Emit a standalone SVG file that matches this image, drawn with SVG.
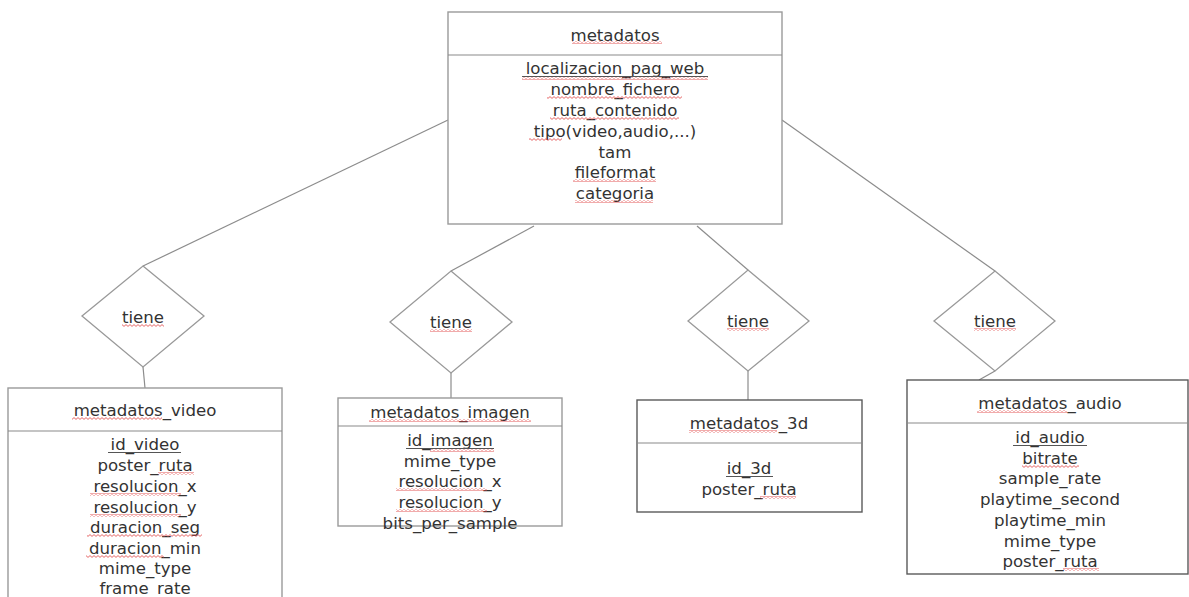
<svg xmlns="http://www.w3.org/2000/svg" width="1189" height="597" viewBox="0 0 1189 597">
  <defs>
    <pattern id="wave" x="0" y="0" width="4" height="3" patternUnits="userSpaceOnUse">
      <path d="M0 2.4 L2 0.6 L4 2.4" fill="none" stroke="#e04040" stroke-width="0.8"/>
    </pattern>
    <style>
      .box { fill: #ffffff; stroke: #9a9a9a; stroke-width: 1.4; }
      .box.dark { stroke: #5a5a5a; }
      .sep { stroke: #8a8a8a; stroke-width: 1.2; }
      .rel { fill: #ffffff; stroke: #999999; stroke-width: 1.3; }
      .conn { fill: none; stroke: #8c8c8c; stroke-width: 1.2; }
      text { font-family: "DejaVu Sans", Verdana, sans-serif; font-size: 16.6px; fill: #333333; text-anchor: middle; }
      .ul { stroke: #555555; stroke-width: 1; }
      .sq { fill: url(#wave); }
    </style>
  </defs>

  <rect width="1189" height="597" fill="#ffffff"/>

  <!-- connectors -->
  <g id="connectors">
    <line class="conn" x1="448" y1="120" x2="143" y2="266"/>
    <line class="conn" x1="534" y1="226" x2="451" y2="271"/>
    <line class="conn" x1="697" y1="226" x2="748" y2="270"/>
    <line class="conn" x1="782" y1="120" x2="995" y2="271"/>
    <line class="conn" x1="143" y1="367" x2="145" y2="388"/>
    <line class="conn" x1="451" y1="373" x2="451" y2="398"/>
    <line class="conn" x1="748" y1="371" x2="748" y2="400"/>
    <line class="conn" x1="995" y1="371" x2="979" y2="380"/>
  </g>

  <!-- central entity -->
  <g id="metadatos">
    <rect class="box" x="448" y="12" width="334" height="212"/>
    <line class="sep" x1="448" y1="55" x2="782" y2="55"/>
    <text x="615" y="41">metadatos</text>
    <rect class="sq" x="572" y="41" width="90" height="3"/>
    <text x="615" y="74">localizacion_pag_web</text>
    <line class="ul" x1="522" y1="76.5" x2="708" y2="76.5"/>
    <rect class="sq" x="522" y="77" width="186" height="3"/>
    <text x="615" y="95">nombre_fichero</text>
    <rect class="sq" x="547" y="96" width="135" height="3"/>
    <text x="615" y="116">ruta_contenido</text>
    <rect class="sq" x="550" y="117" width="129" height="3"/>
    <text x="615" y="137">tipo(video,audio,...)</text>
    <rect class="sq" x="529" y="138" width="33" height="3"/>
    <text x="615" y="158">tam</text>
    <text x="615" y="178">fileformat</text>
    <rect class="sq" x="573" y="179" width="83" height="3"/>
    <text x="615" y="199">categoria</text>
    <rect class="sq" x="575" y="200" width="78" height="3"/>
  </g>

  <!-- relationships -->
  <g id="tiene-video">
    <polygon class="rel" points="143,266 204,316 143,367 82,316"/>
    <text x="143" y="323">tiene</text>
    <rect class="sq" x="122" y="324" width="42" height="3"/>
  </g>
  <g id="tiene-imagen">
    <polygon class="rel" points="451,271 512,322 451,373 390,322"/>
    <text x="451" y="328">tiene</text>
    <rect class="sq" x="430" y="329" width="42" height="3"/>
  </g>
  <g id="tiene-3d">
    <polygon class="rel" points="748,270 809,321 748,371 688,321"/>
    <text x="748" y="327">tiene</text>
    <rect class="sq" x="727" y="328" width="42" height="3"/>
  </g>
  <g id="tiene-audio">
    <polygon class="rel" points="995,271 1055,321 995,371 934,321"/>
    <text x="995" y="327">tiene</text>
    <rect class="sq" x="974" y="328" width="42" height="3"/>
  </g>

  <!-- metadatos_video -->
  <g id="metadatos_video">
    <rect class="box" x="8" y="388" width="274" height="220"/>
    <line class="sep" x1="8" y1="431" x2="282" y2="431"/>
    <text x="145" y="416">metadatos_video</text>
    <rect class="sq" x="72" y="417" width="90" height="3"/>
    <text x="145" y="450">id_video</text>
    <line class="ul" x1="108" y1="452.5" x2="181" y2="452.5"/>
    <text x="145" y="471">poster_ruta</text>
    <rect class="sq" x="158" y="472" width="36" height="3"/>
    <text x="145" y="492">resolucion_x</text>
    <rect class="sq" x="90" y="493" width="91" height="3"/>
    <text x="145" y="513">resolucion_y</text>
    <rect class="sq" x="90" y="514" width="91" height="3"/>
    <text x="145" y="533">duracion_seg</text>
    <rect class="sq" x="87" y="534" width="115" height="3"/>
    <text x="145" y="554">duracion_min</text>
    <rect class="sq" x="86" y="555" width="78" height="3"/>
    <text x="145" y="574">mime_type</text>
    <text x="145" y="594">frame_rate</text>
  </g>

  <!-- metadatos_imagen -->
  <g id="metadatos_imagen">
    <rect class="box" x="338" y="398" width="224" height="128"/>
    <line class="sep" x1="338" y1="426" x2="562" y2="426"/>
    <text x="450" y="418">metadatos_imagen</text>
    <rect class="sq" x="369" y="419" width="162" height="3"/>
    <text x="450" y="446">id_imagen</text>
    <line class="ul" x1="406" y1="448.5" x2="494" y2="448.5"/>
    <rect class="sq" x="430" y="449" width="64" height="3"/>
    <text x="450" y="467">mime_type</text>
    <text x="450" y="487">resolucion_x</text>
    <rect class="sq" x="396" y="488" width="91" height="3"/>
    <text x="450" y="508">resolucion_y</text>
    <rect class="sq" x="396" y="509" width="91" height="3"/>
    <text x="450" y="529">bits_per_sample</text>
  </g>

  <!-- metadatos_3d -->
  <g id="metadatos_3d">
    <rect class="box dark" x="637" y="400" width="225" height="112"/>
    <line class="sep" x1="637" y1="443" x2="862" y2="443"/>
    <text x="749" y="429">metadatos_3d</text>
    <rect class="sq" x="689" y="430" width="88" height="3"/>
    <text x="749" y="474">id_3d</text>
    <line class="ul" x1="726" y1="476.5" x2="773" y2="476.5"/>
    <text x="749" y="495">poster_ruta</text>
    <rect class="sq" x="760" y="496" width="36" height="3"/>
  </g>

  <!-- metadatos_audio -->
  <g id="metadatos_audio">
    <rect class="box dark" x="907" y="380" width="281" height="194"/>
    <line class="sep" x1="907" y1="423" x2="1188" y2="423"/>
    <text x="1050" y="409">metadatos_audio</text>
    <rect class="sq" x="977" y="410" width="90" height="3"/>
    <text x="1050" y="443">id_audio</text>
    <line class="ul" x1="1013" y1="445.5" x2="1087" y2="445.5"/>
    <text x="1050" y="464">bitrate</text>
    <rect class="sq" x="1022" y="465" width="57" height="3"/>
    <text x="1050" y="484">sample_rate</text>
    <text x="1050" y="505">playtime_second</text>
    <text x="1050" y="526">playtime_min</text>
    <text x="1050" y="547">mime_type</text>
    <text x="1050" y="567">poster_ruta</text>
    <rect class="sq" x="1063" y="568" width="36" height="3"/>
  </g>
</svg>
